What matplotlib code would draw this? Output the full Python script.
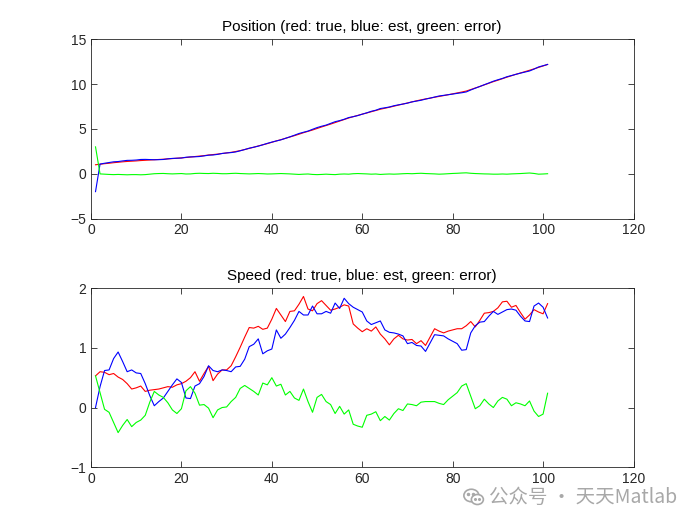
import numpy as np
import matplotlib.pyplot as plt
from matplotlib.patches import Ellipse

# values, step 1..101
pos_true = [1.00, 1.06, 1.12, 1.17, 1.23, 1.28, 1.33, 1.37, 1.40, 1.43,
            1.47, 1.50, 1.53, 1.56, 1.59, 1.62, 1.66, 1.69, 1.73, 1.77,
            1.81, 1.86, 1.92, 1.97, 2.02, 2.09, 2.14, 2.19, 2.26, 2.32,
            2.39, 2.48, 2.58, 2.70, 2.83, 2.96, 3.10, 3.23, 3.36, 3.51,
            3.66, 3.80, 3.95, 4.10, 4.25, 4.41, 4.58, 4.73, 4.88, 5.05,
            5.22, 5.38, 5.54, 5.71, 5.88, 6.05, 6.22, 6.37, 6.51, 6.65,
            6.78, 6.92, 7.06, 7.20, 7.31, 7.42, 7.54, 7.66, 7.78, 7.90,
            8.02, 8.14, 8.25, 8.35, 8.44, 8.54, 8.63, 8.72, 8.82, 8.92,
            9.02, 9.12, 9.23, 9.40, 9.57, 9.74, 9.92, 10.10, 10.28, 10.44,
            10.61, 10.78, 10.94, 11.10, 11.25, 11.40, 11.55, 11.71, 11.87, 12.03,
            12.20]
pos_est = [-2.00, 1.08, 1.17, 1.25, 1.33, 1.36, 1.43, 1.49, 1.50, 1.53,
           1.59, 1.60, 1.58, 1.56, 1.57, 1.59, 1.66, 1.71, 1.73, 1.75,
           1.84, 1.88, 1.89, 1.92, 1.99, 2.07, 2.09, 2.16, 2.26, 2.32,
           2.36, 2.43, 2.56, 2.70, 2.85, 2.96, 3.08, 3.23, 3.39, 3.53,
           3.66, 3.78, 3.95, 4.12, 4.30, 4.49, 4.63, 4.76, 4.96, 5.15,
           5.30, 5.43, 5.62, 5.81, 5.93, 6.08, 6.27, 6.37, 6.49, 6.65,
           6.80, 6.97, 7.09, 7.28, 7.36, 7.45, 7.59, 7.69, 7.78, 7.88,
           8.02, 8.11, 8.20, 8.33, 8.44, 8.56, 8.68, 8.75, 8.82, 8.89,
           8.97, 9.04, 9.13, 9.35, 9.55, 9.74, 9.94, 10.13, 10.33, 10.49,
           10.64, 10.83, 10.96, 11.10, 11.23, 11.35, 11.47, 11.68, 11.92, 12.06,
           12.20]
pos_err = [3.00, -0.02, -0.05, -0.08, -0.10, -0.08, -0.10, -0.12, -0.10, -0.10,
           -0.12, -0.10, -0.05, 0.00, 0.02, 0.03, 0.00, -0.02, 0.00, 0.02,
           -0.03, -0.02, 0.03, 0.05, 0.03, 0.02, 0.05, 0.03, 0.00, 0.00,
           0.03, 0.05, 0.02, 0.00, -0.02, 0.00, 0.02, 0.00, -0.03, -0.02,
           0.00, 0.02, 0.00, -0.02, -0.05, -0.08, -0.05, -0.03, -0.08, -0.10,
           -0.08, -0.05, -0.08, -0.10, -0.05, -0.03, -0.05, 0.00, 0.02, 0.00,
           -0.02, -0.05, -0.03, -0.08, -0.05, -0.03, -0.05, -0.03, 0.00, 0.02,
           0.00, 0.03, 0.05, 0.02, 0.00, -0.02, -0.05, -0.03, 0.00, 0.03,
           0.05, 0.08, 0.10, 0.05, 0.02, 0.00, -0.02, -0.03, -0.05, -0.05,
           -0.03, -0.05, -0.02, 0.00, 0.02, 0.05, 0.08, 0.03, -0.05, -0.03,
           0.00]

spd_true = [0.53, 0.60, 0.59, 0.55, 0.57, 0.51, 0.47, 0.40, 0.31, 0.33,
            0.36, 0.27, 0.29, 0.30, 0.31, 0.33, 0.35, 0.34, 0.38, 0.40,
            0.44, 0.50, 0.60, 0.44, 0.57, 0.69, 0.45, 0.56, 0.63, 0.63,
            0.70, 0.85, 1.01, 1.18, 1.34, 1.33, 1.36, 1.31, 1.33, 1.48,
            1.66, 1.55, 1.44, 1.61, 1.62, 1.73, 1.86, 1.65, 1.62, 1.74,
            1.79, 1.71, 1.63, 1.65, 1.68, 1.72, 1.70, 1.40, 1.33, 1.27,
            1.32, 1.28, 1.35, 1.23, 1.15, 1.05, 1.15, 1.21, 1.15, 1.13,
            1.14, 1.07, 1.12, 1.04, 1.18, 1.32, 1.28, 1.25, 1.28, 1.30,
            1.32, 1.32, 1.37, 1.44, 1.35, 1.46, 1.58, 1.59, 1.61, 1.67,
            1.77, 1.78, 1.68, 1.71, 1.59, 1.48, 1.55, 1.64, 1.60, 1.57,
            1.74]
spd_est = [0.00, 0.35, 0.62, 0.63, 0.82, 0.93, 0.77, 0.60, 0.63, 0.58,
           0.57, 0.40, 0.20, 0.03, 0.10, 0.16, 0.27, 0.38, 0.48, 0.42,
           0.16, 0.15, 0.36, 0.40, 0.52, 0.70, 0.62, 0.60, 0.63, 0.62,
           0.60, 0.68, 0.69, 0.81, 1.02, 1.06, 1.15, 0.90, 0.95, 0.98,
           1.30, 1.16, 1.23, 1.34, 1.46, 1.61, 1.55, 1.55, 1.70, 1.57,
           1.57, 1.61, 1.58, 1.75, 1.66, 1.83, 1.74, 1.68, 1.64, 1.60,
           1.45, 1.39, 1.42, 1.45, 1.30, 1.26, 1.25, 1.23, 1.20, 1.07,
           1.09, 1.04, 1.03, 0.94, 1.08, 1.22, 1.21, 1.20, 1.15, 1.11,
           1.07, 0.96, 0.97, 1.25, 1.37, 1.43, 1.44, 1.53, 1.61, 1.56,
           1.60, 1.64, 1.65, 1.63, 1.53, 1.45, 1.44, 1.70, 1.75, 1.68,
           1.50]
spd_err = [0.53, 0.25, -0.03, -0.08, -0.25, -0.42, -0.30, -0.20, -0.32, -0.25,
           -0.21, -0.13, 0.09, 0.27, 0.21, 0.17, 0.08, -0.04, -0.10, -0.02,
           0.28, 0.35, 0.24, 0.04, 0.05, -0.01, -0.17, -0.04, 0.00, 0.01,
           0.10, 0.17, 0.32, 0.37, 0.32, 0.27, 0.21, 0.41, 0.38, 0.50,
           0.36, 0.39, 0.21, 0.27, 0.16, 0.12, 0.31, 0.10, -0.08, 0.17,
           0.22, 0.10, 0.05, -0.10, 0.02, -0.11, -0.04, -0.28, -0.31, -0.33,
           -0.13, -0.11, -0.07, -0.22, -0.15, -0.21, -0.10, -0.02, -0.05, 0.06,
           0.05, 0.03, 0.09, 0.10, 0.10, 0.10, 0.07, 0.05, 0.13, 0.19,
           0.25, 0.36, 0.40, 0.19, -0.02, 0.03, 0.14, 0.06, 0.00, 0.11,
           0.17, 0.14, 0.03, 0.08, 0.06, 0.03, 0.11, -0.06, -0.15, -0.11,
           0.24]

k = np.arange(1, 102)

plt.rcParams['font.family'] = ['Liberation Sans', 'DejaVu Sans']
plt.rcParams['font.size'] = 10

fig = plt.figure(figsize=(7, 5.25), dpi=100)
ax1 = fig.add_axes([0.13, 0.5838, 0.775, 0.3412])
ax2 = fig.add_axes([0.13, 0.11, 0.775, 0.3412])

def style(ax, ylim, yticks, title):
    ax.set_xlim(0, 120)
    ax.set_ylim(*ylim)
    ax.set_xticks(np.arange(0, 121, 20))
    ax.set_yticks(yticks)
    ax.tick_params(direction='in', top=True, right=True, length=4,
                   width=0.6, colors='#262626', labelsize=10)
    for s in ax.spines.values():
        s.set_color('#262626')
        s.set_linewidth(0.6)
    ax.set_title(title, fontsize=11, color='black', pad=6)

ax1.plot(k, pos_true, color='red', lw=0.8)
ax1.plot(k, pos_est, color='blue', lw=0.8)
ax1.plot(k, pos_err, color='#00ff00', lw=0.8)
style(ax1, (-5, 15), [-5, 0, 5, 10, 15], 'Position (red: true, blue: est, green: error)')

ax2.plot(k, spd_true, color='red', lw=0.8)
ax2.plot(k, spd_est, color='blue', lw=0.8)
ax2.plot(k, spd_err, color='#00ff00', lw=0.8)
style(ax2, (-1, 2), [-1, 0, 1, 2], 'Speed (red: true, blue: est, green: error)')

# watermark
wm = fig.text(677 / 700, 1 - 497 / 525, '公众号 · 天天Matlab', ha='right', va='center',
              fontsize=14, color='#a8a8a8',
              family=['Noto Sans CJK SC', 'DejaVu Sans'])
fig.canvas.draw()
bb = wm.get_window_extent()
x0 = bb.x0 - 26
icon = fig.add_axes([x0 / 700, (bb.y0 + bb.height / 2 - 10) / 525, 22 / 700, 20 / 525])
icon.set_xlim(0, 22)
icon.set_ylim(0, 20)
icon.axis('off')
icon.add_patch(Ellipse((8.5, 11.5), 15, 12.5, fc='white', ec='#a8a8a8', lw=1.2))
icon.add_patch(Ellipse((14.5, 7.5), 12, 10, fc='white', ec='#a8a8a8', lw=1.2))
icon.plot([5.5, 10.5], [13.5, 13.5], 'o', color='#a8a8a8', ms=1.5)
icon.plot([12.2, 16.6], [8.2, 8.2], 'o', color='#a8a8a8', ms=1.2)

fig.savefig('out.png', dpi=100)
